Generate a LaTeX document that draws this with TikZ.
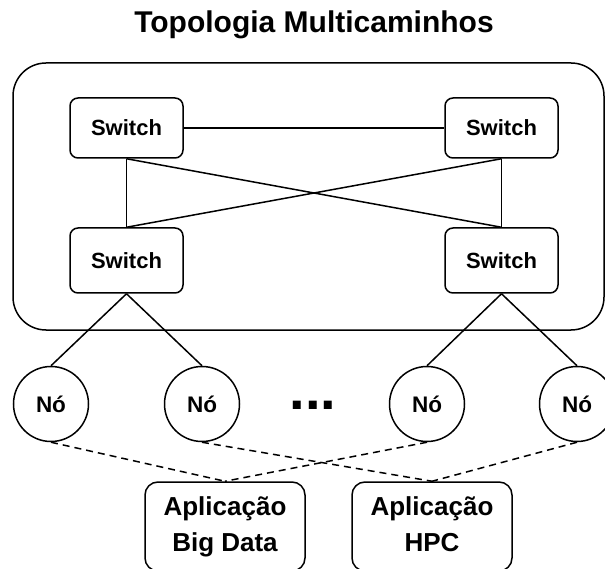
\documentclass[tikz,border=0pt]{standalone}
\usepackage{fontspec}
\setmainfont{Liberation Sans}
\begin{document}
\begin{tikzpicture}[x=1pt,y=-1pt,line width=1.5pt,
  titletext/.style={font=\fontsize{30}{34}\selectfont\bfseries, anchor=base},
  swbox/.style={draw, rounded corners=8pt, minimum width=113pt, inner sep=0pt,
    font=\fontsize{22}{26}\selectfont\bfseries, text height=15.8pt, text depth=0pt},
  nodecirc/.style={draw, circle, minimum size=75pt, inner sep=0pt,
    font=\fontsize{22.5}{26}\selectfont\bfseries, text height=16pt, text depth=0pt},
  appbox/.style={draw, rounded corners=13pt, minimum width=160pt, minimum height=89pt,
    inner sep=0pt, align=center, font=\fontsize{26}{36}\selectfont\bfseries},
  dashlink/.style={dash pattern=on 7pt off 5pt}]
\useasboundingbox (0,0) rectangle (605,569);
\node[titletext] (title) at (314,33) {Topologia Multicaminhos};
\node[draw, rounded corners=33pt, minimum width=591pt, minimum height=267pt, inner sep=0pt] (fabric) at (308.5,196.5) {};
\node[swbox, minimum height=60pt] (s1) at (126.5,128) {Switch};
\node[swbox, minimum height=60pt] (s2) at (501.5,128) {Switch};
\node[swbox, minimum height=65pt] (s3) at (126.5,260.5) {Switch};
\node[swbox, minimum height=65pt] (s4) at (501.5,260.5) {Switch};
\node[nodecirc] (n1) at (51,404) {Nó};
\node[nodecirc] (n2) at (202,404) {Nó};
\node[nodecirc] (n3) at (427,404) {Nó};
\node[nodecirc] (n4) at (577,404) {Nó};
\node[font=\fontsize{56}{60}\selectfont\bfseries, anchor=base, inner sep=0pt] (dots) at (313,409) {...};
\node[appbox] (app1) at (225,526.5) {Aplicação\\Big Data};
\node[appbox] (app2) at (432,526.5) {Aplicação\\HPC\vphantom{g}};
\draw (s1) -- (s2);
\draw (s1.south) -- (s3.north);
\draw (s2.south) -- (s4.north);
\draw (s1.south) -- (s4.north);
\draw (s3.north) -- (s2.south);
\draw (s3.south) -- (n1.north);
\draw (s3.south) -- (n2.north);
\draw (s4.south) -- (n3.north);
\draw (s4.south) -- (n4.north);
\draw[dashlink] (n1.south) -- (app1.north);
\draw[dashlink] (n3.south) -- (app1.north);
\draw[dashlink] (n2.south) -- (app2.north);
\draw[dashlink] (n4.south) -- (app2.north);
\end{tikzpicture}
\end{document}
